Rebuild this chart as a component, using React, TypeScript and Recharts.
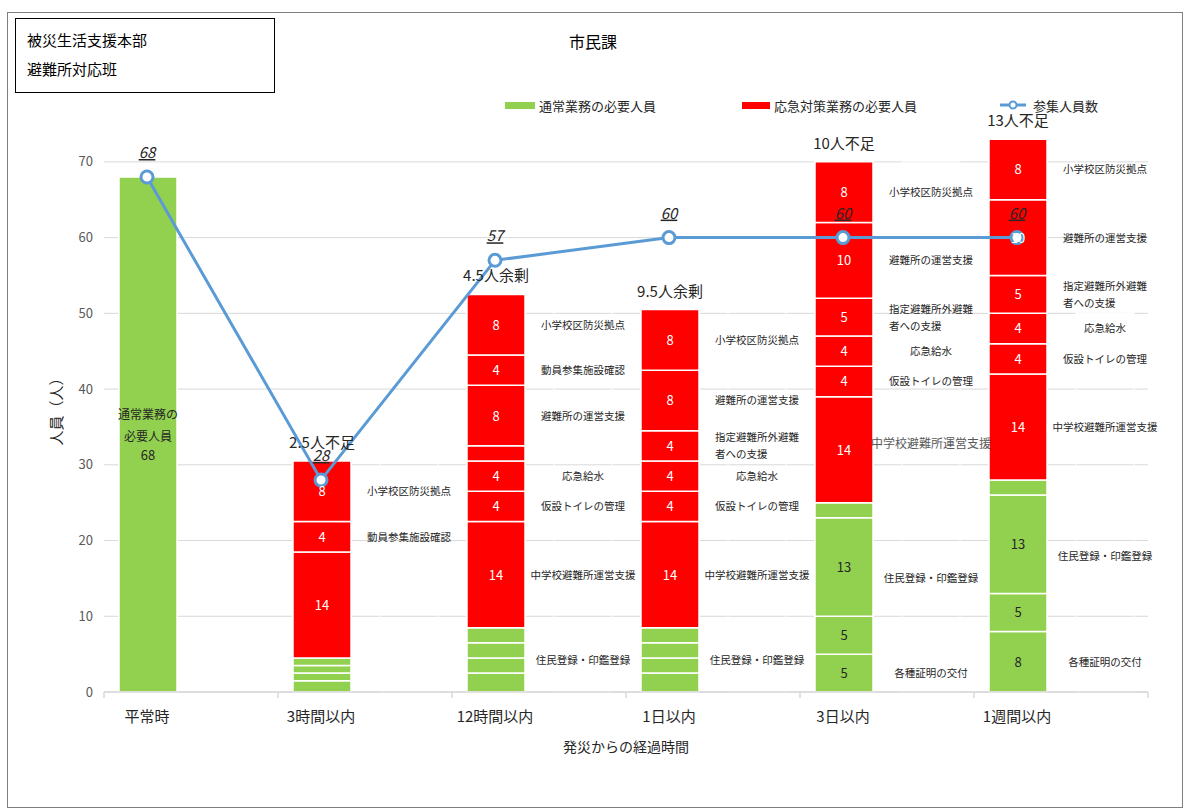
import React from "react"
import { ComposedChart, Bar, Line, XAxis, YAxis, CartesianGrid, LabelList } from "recharts"

const FONT = '"Noto Sans CJK JP", "Noto Sans", sans-serif'
const GREEN = "#92D050"
const RED = "#FF0000"
const BLUE = "#5B9BD5"

// 経過時間
const categories = ["平常時", "3時間以内", "12時間以内", "1日以内", "3日以内", "1週間以内"]

// 通常業務の必要人員 (下から)
const normal1 = [68, 1.5, 2.5, 2.5, 5, 8]
const normal2 = [0, 1, 2, 2, 5, 5]
const normal3 = [0, 1, 2, 2, 13, 13]
const normal4 = [0, 1, 2, 2, 2, 2]

// 応急対策業務の必要人員 (下から)
const juniorHigh = [0, 14, 14, 14, 14, 14]
const toilet = [0, 0, 4, 4, 4, 4]
const water = [0, 0, 4, 4, 4, 4]
const outside = [0, 0, 2, 4, 5, 5]
const shelter = [0, 0, 8, 8, 10, 10]
const mobilize = [0, 4, 4, 0, 0, 0]
const school = [0, 8, 8, 8, 8, 8]

// 参集人員数
const staff = [68, 28, 57, 60, 60, 60]

// 過不足
const balance = ["", "2.5人不足", "4.5人余剰", "9.5人余剰", "10人不足", "13人不足"]

// 右側の業務名ラベル用 (通常業務はまとめて表示)
const certSide = [0, 0, 0, 0, 5, 8]
const regSide = [0, 4.5, 8.5, 8.5, 20, 20]

const yTicks = [0, 10, 20, 30, 40, 50, 60, 70]

// layout
const PLOT_LEFT = 104
const PLOT_RIGHT = 1148
const BAND = (PLOT_RIGHT - PLOT_LEFT) / categories.length
const BAR = 58
const GAP = 29
const BAR_CENTER = Math.floor((BAND - 2 * BAR - GAP) / 2) + BAR / 2 // first bar center inside band

const visibleSeries = [
  { key: "g1", values: normal1, color: GREEN },
  { key: "g2", values: normal2, color: GREEN },
  { key: "g3", values: normal3, color: GREEN },
  { key: "g4", values: normal4, color: GREEN },
  { key: "r1", values: juniorHigh, color: RED },
  { key: "r2", values: toilet, color: RED },
  { key: "r3", values: water, color: RED },
  { key: "r4", values: outside, color: RED },
  { key: "r5", values: shelter, color: RED },
  { key: "r6", values: mobilize, color: RED },
  { key: "r7", values: school, color: RED },
]

const sideSeries = [
  { key: "lCert", name: "各種証明の交付", values: certSide },
  { key: "lReg", name: "住民登録・印鑑登録", values: regSide },
  { key: "lJunior", name: "中学校避難所運営支援", values: juniorHigh },
  { key: "lToilet", name: "仮設トイレの管理", values: toilet },
  { key: "lWater", name: "応急給水", values: water },
  { key: "lOutside", name: "指定避難所外避難者への支援", values: outside },
  { key: "lShelter", name: "避難所の運営支援", values: shelter },
  { key: "lMobilize", name: "動員参集施設確認", values: mobilize },
  { key: "lSchool", name: "小学校区防災拠点", values: school },
]
// labels not shown in the original
const sideHidden = ["lReg:1", "lJunior:1", "lOutside:2"]

const data = categories.map((name, i) => {
  const row: Record<string, any> = { name, idx: i, staff: staff[i] }
  visibleSeries.forEach((s) => (row[s.key] = s.values[i]))
  sideSeries.forEach((s) => (row[s.key] = s.values[i]))
  return row
})

const CategoryTick = (props: any) => {
  const { x, y, payload, index } = props
  const i = index ?? payload?.index ?? 0
  const start = x - BAND / 2
  return (
    <g>
      <line x1={start} x2={start} y1={y} y2={y + 6} stroke="#d9d9d9" strokeWidth={1.5} />
      {i === categories.length - 1 && (
        <line x1={start + BAND} x2={start + BAND} y1={y} y2={y + 6} stroke="#d9d9d9" strokeWidth={1.5} />
      )}
      <text x={start + BAR_CENTER} y={y + 30} textAnchor="middle" fontSize={15} fill="#262626" fontFamily={FONT}>
        {payload.value}
      </text>
    </g>
  )
}

// LabelList gets dataKey="idx", so value is the category index
const insideLabel = (values: number[], color: string) => (props: any) => {
  const { x, y, width, height, value } = props
  const i = Number(value)
  const v = values[i]
  if (!v) return null
  const cx = x + width / 2
  const cy = y + height / 2
  if (i === 0) {
    // 平常時
    return (
      <g fontFamily={FONT} fill="#262626" textAnchor="middle">
        <text x={cx} y={cy - 16} fontSize={12}>通常業務の</text>
        <text x={cx} y={cy + 6} fontSize={12}>必要人員</text>
        <text x={cx} y={cy + 25} fontSize={13}>{v}</text>
      </g>
    )
  }
  if (v < 4) return null
  return (
    <text x={cx} y={cy + 5} textAnchor="middle" fontSize={13} fontFamily={FONT}
      fill={color === RED ? "#fff" : "#262626"}>
      {v}
    </text>
  )
}

const balanceLabel = (props: any) => {
  const { x, y, width, value } = props
  const text = balance[Number(value)]
  if (!text) return null
  return (
    <text x={x + width / 2} y={y - 13} textAnchor="middle" fontSize={15} fill="#262626" fontFamily={FONT}>
      {text}
    </text>
  )
}

const sideLabel = (key: string, name: string, values: number[]) => (props: any) => {
  const { x, y, width, height, value } = props
  const i = Number(value)
  if (!values[i] || sideHidden.includes(`${key}:${i}`)) return null
  const cx = x + width / 2
  const cy = y + height / 2
  let fs = 10.5
  let fill = "#262626"
  let dy = 0
  if (key === "lJunior" && i === 4) {
    fs = 12
    fill = "#595959"
    dy = -6
  }
  if (name.length > 10) {
    const a = name.slice(0, 8)
    const b = name.slice(8)
    const left = cx - (8 * fs) / 2
    return (
      <g fontFamily={FONT} fontSize={fs} fill={fill}>
        <text x={left} y={cy - 8.5 + 4}>{a}</text>
        <text x={left} y={cy + 8.5 + 4}>{b}</text>
      </g>
    )
  }
  return (
    <text x={cx} y={cy + dy + 4} textAnchor="middle" fontSize={fs} fill={fill} fontFamily={FONT}>
      {name}
    </text>
  )
}

const staffLabel = (props: any) => {
  const { x, y, value } = props
  return (
    <text x={x} y={y - 19} textAnchor="middle" fontSize={15} fontStyle="italic" textDecoration="underline"
      fill="#262626" fontFamily={FONT}>
      {value}
    </text>
  )
}

const lineLo = -BAR_CENTER / BAND

export default function App() {
  return (
    <div style={{ position: "absolute", left: 0, top: 0, width: 1184, height: 810, background: "#fff", fontFamily: FONT }}>
      <div style={{ position: "absolute", left: 7, top: 12, width: 1176, height: 796, border: "1px solid #7f7f7f", boxSizing: "border-box" }} />
      <div style={{ position: "absolute", left: 0, top: 0 }}>
        <ComposedChart
          width={1184}
          height={810}
          data={data}
          margin={{ top: 124, right: 1184 - PLOT_RIGHT, bottom: 88, left: 44 }}
          barSize={BAR}
          barGap={GAP}
        >
          <CartesianGrid xAxisId="cat" vertical={false} stroke="#d9d9d9" horizontalValues={yTicks} />
          <XAxis
            xAxisId="cat"
            dataKey="name"
            height={30}
            interval={0}
            axisLine={{ stroke: "#d9d9d9", strokeWidth: 1.5 }}
            tickLine={false}
            tickSize={0}
            tickMargin={0}
            tick={<CategoryTick />}
            label={{ value: "発災からの経過時間", position: "bottom", offset: 20, fontSize: 14, fill: "#262626", fontFamily: FONT }}
          />
          <XAxis xAxisId="num" type="number" dataKey="idx" domain={[lineLo, lineLo + categories.length]} allowDataOverflow hide />
          <YAxis
            width={60}
            domain={[0, 75]}
            ticks={yTicks}
            axisLine={false}
            tickLine={false}
            tickSize={0}
            tickMargin={11}
            tick={{ fontSize: 13, fill: "#595959", fontFamily: FONT }}
            label={{ value: "人員（人）", angle: -90, position: "insideLeft", offset: 13, fontSize: 15, fill: "#262626", fontFamily: FONT, style: { textAnchor: "middle", fill: "#262626" } }}
          />
          {visibleSeries.map((s) => (
            <Bar key={s.key} xAxisId="cat" dataKey={s.key} stackId="req" fill={s.color} stroke="#fff" strokeWidth={1.5} isAnimationActive={false}>
              <LabelList dataKey="idx" content={insideLabel(s.values, s.color)} />
              {s.key === "r7" && <LabelList dataKey="idx" content={balanceLabel} />}
            </Bar>
          ))}
          {sideSeries.map((s) => (
            <Bar key={s.key} xAxisId="cat" dataKey={s.key} stackId="side" fill="none" stroke="#fff" strokeWidth={1} isAnimationActive={false}>
              <LabelList dataKey="idx" content={sideLabel(s.key, s.name, s.values)} />
            </Bar>
          ))}
          <Line
            xAxisId="num"
            dataKey="staff"
            stroke={BLUE}
            strokeWidth={3}
            dot={{ r: 6, fill: "#fff", stroke: BLUE, strokeWidth: 3 }}
            isAnimationActive={false}
          >
            <LabelList content={staffLabel} />
          </Line>
        </ComposedChart>
      </div>

      <div style={{ position: "absolute", left: 15, top: 18, width: 260, height: 75, border: "1px solid #000", boxSizing: "border-box", padding: "6px 11px", fontSize: 15, lineHeight: "29px", color: "#000" }}>
        <div>被災生活支援本部</div>
        <div>避難所対応班</div>
      </div>
      <div style={{ position: "absolute", left: 493, top: 30, width: 200, textAlign: "center", fontSize: 16, lineHeight: "22px", color: "#000" }}>
        市民課
      </div>

      <div style={{ position: "absolute", left: 505, top: 95, height: 20, display: "flex", alignItems: "center", fontSize: 13, color: "#262626" }}>
        <span style={{ display: "inline-block", width: 30, height: 7, background: GREEN, marginRight: 4 }} />
        通常業務の必要人員
      </div>
      <div style={{ position: "absolute", left: 742, top: 95, height: 20, display: "flex", alignItems: "center", fontSize: 13, color: "#262626" }}>
        <span style={{ display: "inline-block", width: 28, height: 7, background: RED, marginRight: 4 }} />
        応急対策業務の必要人員
      </div>
      <div style={{ position: "absolute", left: 1000, top: 95, height: 20, display: "flex", alignItems: "center", fontSize: 13, color: "#262626" }}>
        <svg width={28} height={12} style={{ marginRight: 5 }}>
          <line x1={0} x2={26} y1={6} y2={6} stroke={BLUE} strokeWidth={3} />
          <circle cx={13} cy={6} r={3.5} fill="#fff" stroke={BLUE} strokeWidth={2} />
        </svg>
        参集人員数
      </div>
    </div>
  )
}
